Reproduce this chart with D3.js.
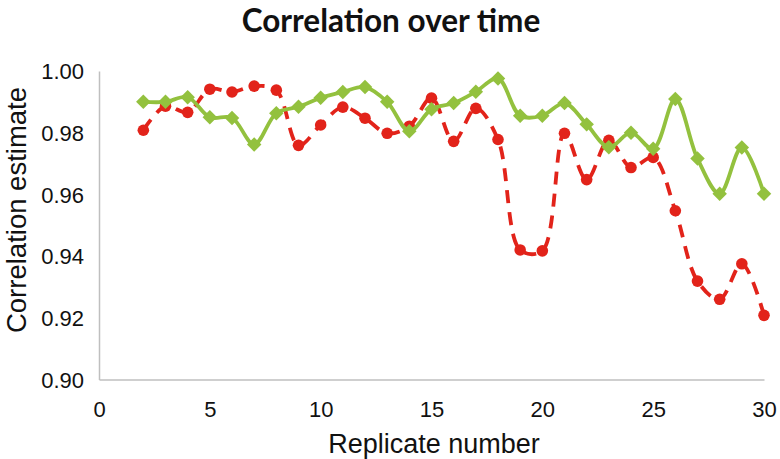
<!DOCTYPE html>
<html>
<head>
<meta charset="utf-8">
<script src="https://cdn.jsdelivr.net/npm/d3@7"></script>
<style>
  html, body { margin: 0; padding: 0; background: #fff; }
  svg { display: block; }
</style>
</head>
<body>
<div id="chart"></div>
<script>
// ---- Data ----
const replicates = [2,3,4,5,6,7,8,9,10,11,12,13,14,15,16,17,18,19,20,21,22,23,24,25,26,27,28,29,30];
const greenValues = [0.990,0.990,0.9915,0.985,0.9848,0.9762,0.9863,0.9884,0.9913,0.9932,0.9948,0.990,0.9805,0.9876,0.9896,0.9933,0.9976,0.9855,0.9855,0.9896,0.9827,0.9753,0.980,0.9748,0.9909,0.9716,0.9602,0.9752,0.9602];
const redValues = [0.9808,0.9886,0.9866,0.9941,0.9932,0.9951,0.9938,0.9759,0.9825,0.9883,0.9847,0.9798,0.9821,0.9912,0.9772,0.9879,0.9778,0.942,0.9417,0.9798,0.9648,0.9775,0.9687,0.972,0.9547,0.9319,0.926,0.9375,0.9208];
const xTicks = [0,5,10,15,20,25,30];
const yTicks = [0.90,0.92,0.94,0.96,0.98,1.00];
const titleText = "Correlation over time";
const xTitle = "Replicate number";
const yTitle = "Correlation estimate";

// ---- Layout ----
const W = 780, H = 459;
const M = {left: 99, right: 16, top: 71, bottom: 80};
const GREEN = "#93C13E", RED = "#E2231A", AXIS = "#BFBFBF";

const svg = d3.select("#chart").append("svg").attr("width", W).attr("height", H);

const x = d3.scaleLinear().domain([0, 30]).range([M.left, W - M.right]);
const y = d3.scaleLinear().domain([0.90, 1.00]).range([H - M.bottom + 0.5, M.top]);

// Title
const t = svg.append("text").attr("x", 391).attr("y", 32)
  .attr("text-anchor", "middle")
  .style("font-family", "Lato, 'Open Sans', sans-serif")
  .style("font-weight", "bold").style("font-size", "28px").attr("fill", "#111")
  .text(titleText);
const tw = t.node().getComputedTextLength();
t.style("font-size", Math.min(31.5, 28 * 310 / tw).toFixed(2) + "px");

// Axes
const xAxis = d3.axisBottom(x).tickValues(xTicks).tickSize(0).tickPadding(0).tickFormat(d3.format("d"));
const yAxis = d3.axisLeft(y).tickValues(yTicks).tickSize(0).tickPadding(0).tickFormat(d3.format(".2f"));

const gx = svg.append("g").attr("transform", `translate(0,${y(0.90)})`).call(xAxis);
const gy = svg.append("g").attr("transform", `translate(${x(0)},0)`).call(yAxis);
[gx, gy].forEach(g => {
  g.select(".domain").attr("stroke", AXIS).attr("stroke-width", 1.5);
  g.selectAll("text").attr("fill", "#111")
    .style("font-family", "'Liberation Sans', Arial, sans-serif").style("font-size", "22px");
});
gx.selectAll("text").attr("dy", null).attr("y", 37);
gy.selectAll("text").attr("x", -15).attr("dy", "0.35em");

// Axis titles
svg.append("text").attr("x", 434).attr("y", 453).attr("text-anchor", "middle")
  .style("font-family", "'Liberation Sans', Arial, sans-serif").style("font-size", "27px")
  .attr("fill", "#111").text(xTitle);
svg.append("text").attr("transform", "translate(26,210) rotate(-90)").attr("text-anchor", "middle")
  .style("font-family", "'Liberation Sans', Arial, sans-serif").style("font-size", "27.5px")
  .attr("fill", "#111").text(yTitle);

// Series
const line = d3.line().curve(d3.curveCatmullRom.alpha(0.5))
  .x(d => x(d[0])).y(d => y(d[1]));
const redData = replicates.map((r, i) => [r, redValues[i]]);
const greenData = replicates.map((r, i) => [r, greenValues[i]]);

svg.append("path").datum(redData).attr("d", line).attr("fill", "none")
  .attr("stroke", RED).attr("stroke-width", 3.8).attr("stroke-dasharray", "13,9");
svg.append("g").selectAll("circle").data(redData).join("circle")
  .attr("cx", d => x(d[0])).attr("cy", d => y(d[1])).attr("r", 5.8).attr("fill", RED);

svg.append("path").datum(greenData).attr("d", line).attr("fill", "none")
  .attr("stroke", GREEN).attr("stroke-width", 3.8);
const diamond = d3.symbol().type(d3.symbolSquare).size(105);
svg.append("g").selectAll("path").data(greenData).join("path")
  .attr("d", diamond)
  .attr("transform", d => `translate(${x(d[0])},${y(d[1])}) rotate(45)`)
  .attr("fill", GREEN);
</script>
</body>
</html>
